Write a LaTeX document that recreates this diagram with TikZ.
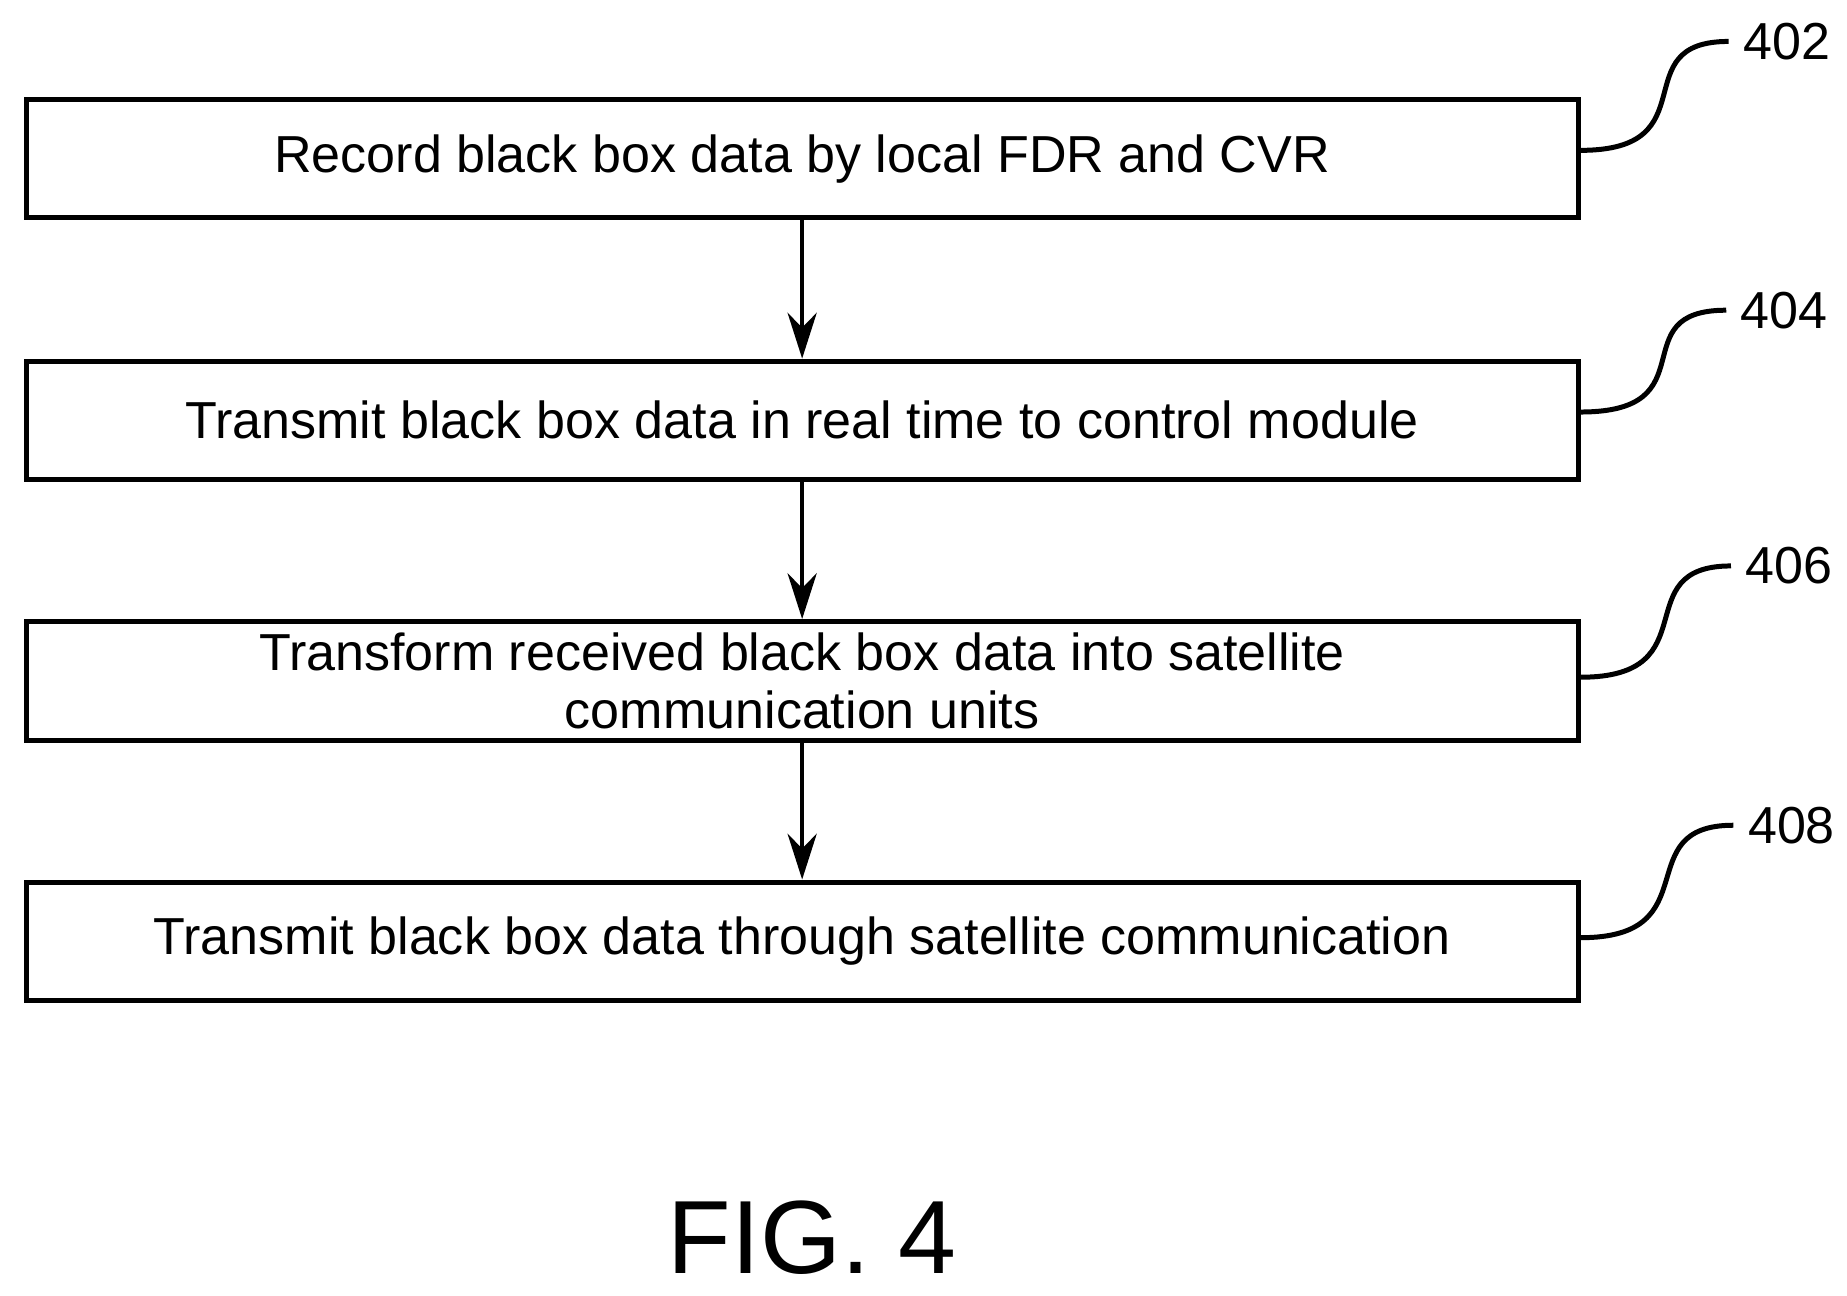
\documentclass[tikz,border=0pt]{standalone}
\usepackage{fontspec}
\setmainfont{Liberation Sans}
\usetikzlibrary{arrows.meta}
\begin{document}
\begin{tikzpicture}[x=0.01cm,y=-0.01cm,
    stepbox/.style={draw, line width=1.2pt, minimum width=13.1cm, minimum height=1.0cm, inner sep=0pt, align=center, font=\fontsize{12.5}{14}\selectfont},
    flow/.style={-{Stealth[length=11pt,width=7pt]}, line width=1pt},
    leader/.style={line width=1.2pt},
    ref/.style={font=\fontsize{12.5}{14}\selectfont, anchor=west}]
\useasboundingbox (0,0) rectangle (1560,1094);
\node[stepbox] (A) at (677.5,134) {Record black box data by local FDR and CVR};
\node[stepbox] (B) at (677.5,355) {Transmit black box data in real time to control module};
\node[stepbox] (C) at (677.5,575) {Transform received black box data into satellite\\communication units};
\node[stepbox] (D) at (677.5,795) {Transmit black box data through satellite communication};
\draw[flow] (A) -- (B);
\draw[flow] (B) -- (C);
\draw[flow] (C) -- (D);
\node[ref] (n402) at (1460,35) {402};
\node[ref] (n404) at (1458,262) {404};
\node[ref] (n406) at (1462,478) {406};
\node[ref] (n408) at (1464,697) {408};
\draw[leader] ([yshift=0.07cm]A.east) .. controls +(110,0) and +(-90,0) .. (n402.west);
\draw[leader] ([yshift=0.07cm]B.east) .. controls +(110,0) and +(-90,0) .. (n404.west);
\draw[leader] ([yshift=0.03cm]C.east) .. controls +(110,0) and +(-90,0) .. (n406.west);
\draw[leader] ([yshift=0.03cm]D.east) .. controls +(110,0) and +(-90,0) .. (n408.west);
\node[font=\fontsize{25}{28}\selectfont] (fig) at (686,1045) {FIG. 4};
\end{tikzpicture}
\end{document}
